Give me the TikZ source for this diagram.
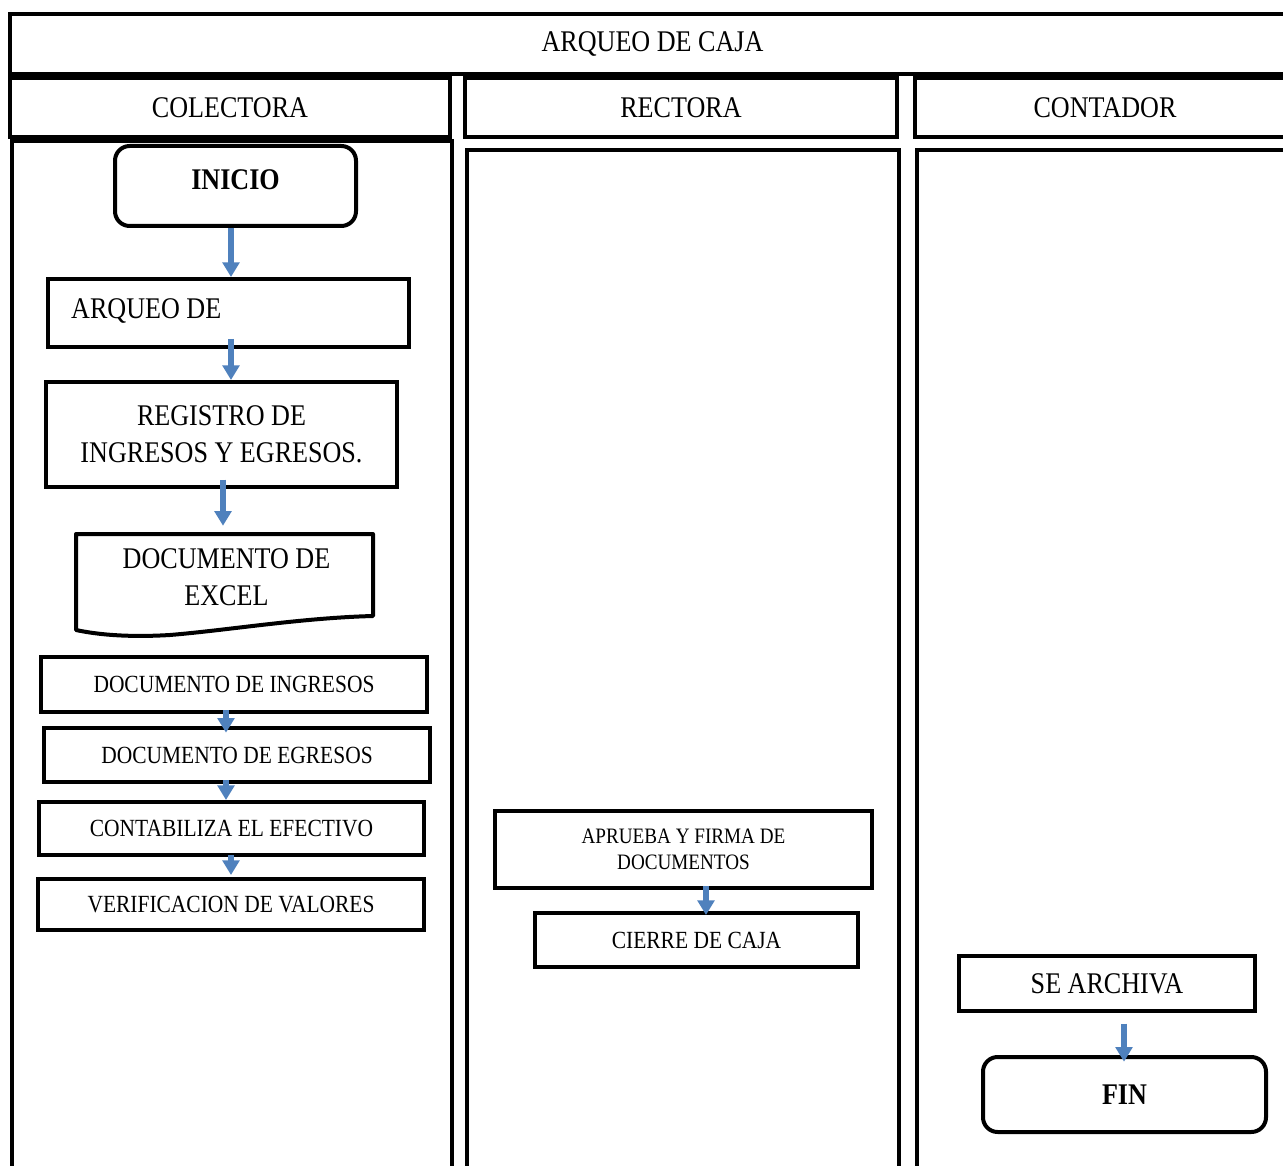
\documentclass[tikz,border=0pt]{standalone}
\usepackage{fontspec}
\setmainfont{Liberation Serif}[FakeStretch=0.87]
\usetikzlibrary{arrows.meta}
\definecolor{arrowblue}{HTML}{4F81BD}
\tikzset{
  box/.style={draw, line width=3pt, fill=white, inner sep=0pt, align=center},
  lane/.style={draw, line width=3pt},
  bigtxt/.style={font=\fontsize{22.5pt}{27.5pt}\selectfont},
  smalltxt/.style={font=\fontsize{18.5pt}{22pt}\selectfont},
  tinytxt/.style={font=\fontsize{16.5pt}{20pt}\selectfont},
  terminal/.style={box, rounded corners=11pt, font=\fontsize{22.5pt}{27.5pt}\selectfont\bfseries},
  arr/.style={draw=arrowblue, line width=4pt, -{Triangle[width=12.5pt,length=11pt]}},
}
\begin{document}
\begin{tikzpicture}[x=0.75pt, y=-0.75pt]
\clip (0,0) rectangle (1283,1166);
\fill[white] (0,0) rectangle (1283,1166);

% title and lane headers
\node[box, bigtxt, minimum width=963.75pt, minimum height=45pt] (title) at (652.5,44) {ARQUEO DE CAJA};
\node[box, bigtxt, minimum width=330pt, minimum height=44.25pt] (colh) at (230,107.5) {COLECTORA};
\node[box, bigtxt, minimum width=324pt, minimum height=44.25pt] (recth) at (681,107.5) {RECTORA};
\node[box, bigtxt, minimum width=285pt, minimum height=44.25pt] (conth) at (1105,107.5) {CONTADOR};

% lane bodies
\draw[lane] (12,141) rectangle (452,1190);
\draw[lane] (467,150) rectangle (899,1190);
\draw[lane] (917,150) rectangle (1295,1190);

% COLECTORA
\node[terminal, minimum width=180.75pt, minimum height=60pt, text depth=9pt] (inicio) at (235.5,186) {INICIO};
\node[box, bigtxt, minimum width=270.75pt, minimum height=51pt, text width=236pt, align=flush left, text depth=6pt] (arqueo) at (228.5,313) {ARQUEO DE};
\node[box, bigtxt, minimum width=263.25pt, minimum height=78.75pt] (registro) at (221.5,434.5) {REGISTRO DE\\INGRESOS Y EGRESOS.};
\draw[line width=3pt, fill=white, line join=round] (76,534) -- (373,534) -- (373,616)
  .. controls (300,618) and (230,630) .. (170,635)
  .. controls (120,638) and (90,633) .. (76,630) -- cycle;
\node[inner sep=0pt, align=center, bigtxt, minimum width=222.75pt, minimum height=61.5pt] (excel) at (226.5,577) {DOCUMENTO DE\\EXCEL};
\node[box, smalltxt, minimum width=289.5pt, minimum height=41.25pt] (ingresos) at (234,684.5) {DOCUMENTO DE INGRESOS};
\node[box, smalltxt, minimum width=289.5pt, minimum height=40.5pt] (egresos) at (237,755) {DOCUMENTO DE EGRESOS};
\node[box, smalltxt, minimum width=288.75pt, minimum height=39.75pt] (contab) at (231.5,828.5) {CONTABILIZA EL EFECTIVO};
\node[box, smalltxt, minimum width=289.5pt, minimum height=38.25pt] (verif) at (231,904.5) {VERIFICACION DE VALORES};

% RECTORA
\node[box, tinytxt, minimum width=282.75pt, minimum height=57.75pt] (aprueba) at (683.5,849.5) {APRUEBA Y FIRMA DE\\DOCUMENTOS};
\node[box, smalltxt, minimum width=242.25pt, minimum height=40.5pt] (cierre) at (696.5,940) {CIERRE DE CAJA};

% CONTADOR
\node[box, bigtxt, minimum width=222pt, minimum height=41.25pt] (archiva) at (1107,983.5) {SE ARCHIVA};
\node[terminal, minimum width=212.25pt, minimum height=56.25pt] (fin) at (1124.5,1094.5) {FIN};

% connectors
\draw[arr] (231,0 |- inicio.south) -- (231,0 |- arqueo.north);
\draw[arr, shorten <=-7.5pt] (231,0 |- arqueo.south) -- (231,0 |- registro.north);
\draw[arr, shorten <=-7pt, shorten >=7.5pt] (223,0 |- registro.south) -- (223,0 |- excel.north);
\draw[arr, shorten <=-3pt, shorten >=-5pt] (226,0 |- ingresos.south) -- (226,0 |- egresos.north);
\draw[arr, shorten <=-3pt] (226,0 |- egresos.south) -- (226,0 |- contab.north);
\draw[arr, shorten <=-1.5pt, shorten >=1.5pt] (231,0 |- contab.south) -- (231,0 |- verif.north);
\draw[arr, shorten <=-3pt, shorten >=-3pt] (706,0 |- aprueba.south) -- (706,0 |- cierre.north);
\draw[arr, shorten <=8pt, shorten >=-5pt] (1124,0 |- archiva.south) -- (1124,0 |- fin.north);
\end{tikzpicture}
\end{document}
